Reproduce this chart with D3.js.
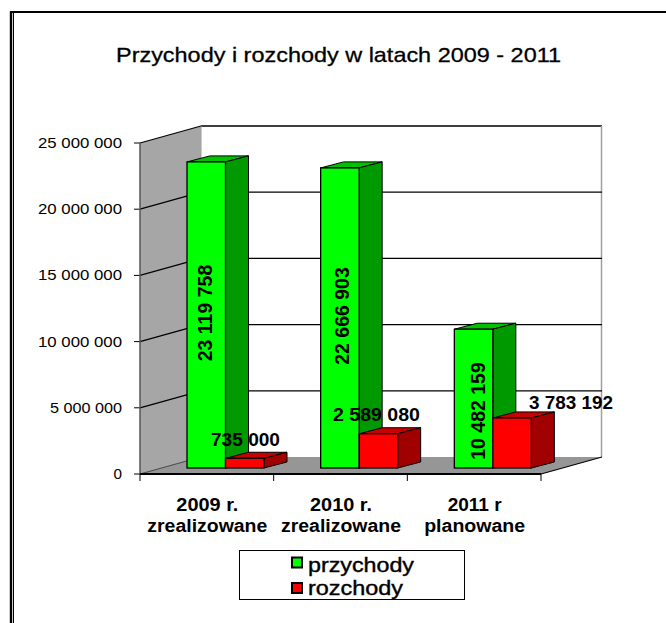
<!DOCTYPE html>
<html><head><meta charset="utf-8">
<script src="https://cdn.jsdelivr.net/npm/d3@7/dist/d3.min.js"></script>
<style>html,body{margin:0;padding:0;background:#fff}svg{display:block}text{font-family:"Liberation Sans",Arial,sans-serif;fill:#000}</style>
</head><body><svg id="c" width="666" height="623"></svg>
<script>
const titleText = "Przychody i rozchody w latach 2009 - 2011";
const categories = [["2009 r.","zrealizowane"],["2010 r.","zrealizowane"],["2011 r","planowane"]];
const przychody = [23119758,22666903,10482159];
const rozchody = [735000,2589080,3783192];
const przychodyLabels = ["23 119 758","22 666 903","10 482 159"];
const rozchodyLabels = ["735 000","2 589 080","3 783 192"];
const yTicks = [0,5000000,10000000,15000000,20000000,25000000];
const yTickLabels = ["0","5 000 000","10 000 000","15 000 000","20 000 000","25 000 000"];
const legendItems = [["przychody","#00ff00"],["rozchody","#ff0000"]];

const svg = d3.select("#c");
const wallDX = 61, wallDY = -17;
const barDX = 23, barDY = -6;
const y = d3.scaleLinear().domain([0,25000000]).range([474,143]);
const x = d3.scaleBand().domain(d3.range(3)).range([140,541]).padding(0);
const barW = 38.5, barBase = -6;

const poly=(pts,fill,stroke,sw)=>svg.append("polygon").attr("points",pts.map(p=>p.join(",")).join(" ")).attr("fill",fill).attr("stroke",stroke||"none").attr("stroke-width",sw||0).attr("stroke-linejoin","round");
const line=(a,b,c,w)=>svg.append("line").attr("x1",a[0]).attr("y1",a[1]).attr("x2",b[0]).attr("y2",b[1]).attr("stroke",c).attr("stroke-width",w);
const stretched=(sel,len)=>sel.attr("textLength",len).attr("lengthAdjust","spacingAndGlyphs");

// outer frame
line([11,11],[11,623],"#000",2.4);
line([13.5,12],[13.5,623],"#000",1);
line([10,12],[666,12],"#000",2);

// title
stretched(svg.append("text").attr("x",116).attr("y",62).attr("font-size",21).attr("stroke","#000").attr("stroke-width",0.3),445).text(titleText);

const x0=140,x1=541,y0=y(0),yT=y(25000000);
poly([[x0,yT],[x0+wallDX,yT+wallDY],[x0+wallDX,y0+wallDY],[x0,y0]],"#a6a6a6");
poly([[x0,y0],[x0+wallDX,y0+wallDY],[x1+wallDX,y0+wallDY],[x1,y0]],"#969696");
line([x0+wallDX,yT+wallDY],[x1+wallDX,yT+wallDY],"#000",1.3);
line([x1+wallDX-0.5,yT+wallDY],[x1+wallDX-0.5,y0+wallDY],"#a0a0a0",1.5);
line([x0+wallDX,yT+wallDY],[x0+wallDX,y0+wallDY],"#a0a0a0",1);
const tickLen={"0":8.5,"5 000 000":72,"10 000 000":84,"15 000 000":84,"20 000 000":84,"25 000 000":84};
yTicks.forEach((t,i)=>{
  const v=y(t);
  if(t>0 && t<25000000) line([x0+wallDX,v+wallDY],[x1+wallDX,v+wallDY],"#000",1.3);
  line([x0,v],[x0+wallDX,v+wallDY],"#000",t===0?0.6:1.2);
  line([x0-6,v],[x0,v],"#000",1);
  stretched(svg.append("text").attr("x",122).attr("y",v+5).attr("text-anchor","end").attr("font-size",14.5),tickLen[yTickLabels[i]]).text(yTickLabels[i]);
});
line([x0,yT],[x0,y0],"#555",1.5);
line([x0,y0],[x1,y0],"#000",2);
line([x1,y0],[x1+wallDX,y0+wallDY],"#000",1.2);
[...x.domain().map(i=>x(i)),x1].forEach(t=>line([t,y0],[t,y0+7],"#000",1));

function bar(left,val,front,top,side){
  const b=y(0)+barBase,t=y(val)+barBase,r=left+barW;
  poly([[left,t],[left+barDX,t+barDY],[r+barDX,t+barDY],[r,t]],top,"#000",1);
  poly([[r,t],[r+barDX,t+barDY],[r+barDX,b+barDY],[r,b]],side,"#000",1);
  svg.append("rect").attr("x",left).attr("y",t).attr("width",barW).attr("height",b-t).attr("fill",front).attr("stroke","#000").attr("stroke-width",1.3);
}
const lefts=i=>x(i)+47;
categories.forEach((c,i)=>{
  bar(lefts(i),przychody[i],"#00ff00","#00c000","#009a00");
  bar(lefts(i)+barW,rozchody[i],"#ff0000","#c80000","#a00000");
});
const secondLen=[120,120,101], firstLen=[62,62,54];
categories.forEach((c,i)=>{
  const cx=x(i)+x.step()/2+0.5;
  stretched(svg.append("text").attr("x",cx-firstLen[i]/2).attr("y",511).attr("font-size",17.5).attr("font-weight","bold"),firstLen[i]).text(c[0]);
  stretched(svg.append("text").attr("x",cx-secondLen[i]/2).attr("y",532).attr("font-size",17.5).attr("font-weight","bold"),secondLen[i]).text(c[1]);
});
[[212,313],[349,316],[485,411]].forEach((p,i)=>{
  svg.append("text").attr("transform",`translate(${p[0]},${p[1]}) rotate(-90)`).attr("text-anchor","middle").attr("font-size",19.5).attr("font-weight","bold").text(przychodyLabels[i]);
});
[[211,446,69],[333,421,87],[529,409,84]].forEach((p,i)=>{
  stretched(svg.append("text").attr("x",p[0]).attr("y",p[1]).attr("font-size",18).attr("font-weight","bold"),p[2]).text(rozchodyLabels[i]);
});
svg.append("rect").attr("x",239.5).attr("y",550.5).attr("width",225).attr("height",49).attr("fill","#fff").attr("stroke","#000").attr("stroke-width",1);
const legLen=[106,95];
legendItems.forEach((d,i)=>{
  const cy=[562.5,588][i];
  svg.append("rect").attr("x",292).attr("y",cy-5).attr("width",10).attr("height",10).attr("fill",d[1]).attr("stroke","#000").attr("stroke-width",2);
  stretched(svg.append("text").attr("x",308).attr("y",[572,595][i]).attr("font-size",21).attr("stroke","#000").attr("stroke-width",0.4),legLen[i]).text(d[0]);
});
</script></body></html>
